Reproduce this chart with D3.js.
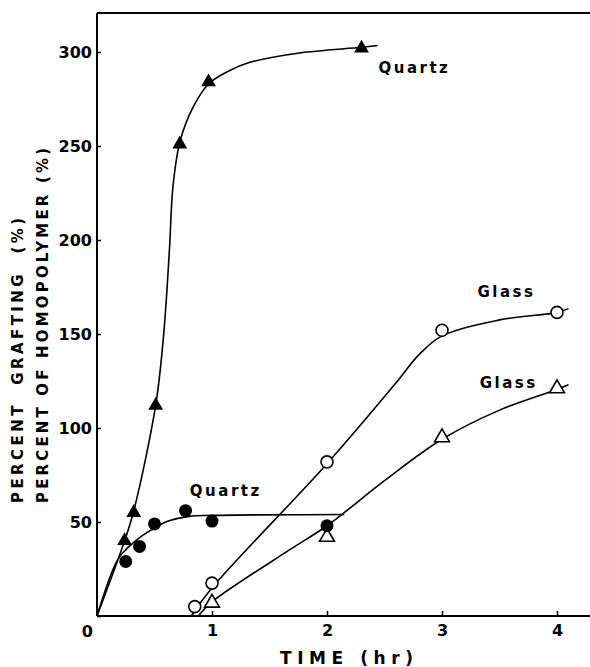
<!DOCTYPE html>
<html>
<head>
<meta charset="utf-8">
<script src="https://cdn.jsdelivr.net/npm/d3@7"></script>
<style>
  html, body { margin: 0; padding: 0; background: #fff; }
  svg { display: block; }
  text { font-family: "DejaVu Sans", sans-serif; fill: #000; }
  .pre { white-space: pre; }
</style>
</head>
<body>
<svg id="chart" width="590" height="667"></svg>
<script>
// ---- data ----
const yTicks = [0, 50, 100, 150, 200, 250, 300];
const xTicks = [1, 2, 3, 4];

// Quartz, filled triangles
const quartzTriPts = [[0.24, 40], [0.32, 55], [0.51, 112], [0.72, 251], [0.97, 284], [2.30, 302]];
const quartzTriCurve = [[0, 0], [0.24, 40], [0.32, 56], [0.51, 112], [0.58, 150], [0.63, 195], [0.66, 228], [0.72, 252], [0.83, 270], [0.97, 283], [1.15, 290], [1.33, 294.5], [1.76, 299.5], [2.30, 302.5], [2.44, 303.5]];

// Quartz, filled circles
const quartzCirPts = [[0.25, 29], [0.37, 37], [0.50, 49], [0.77, 56], [1.00, 50.5], [2.00, 48]];
const quartzCirCurve = [[0, 0], [0.18, 30], [0.28, 37], [0.40, 43], [0.52, 47.5], [0.62, 50.5], [0.80, 53], [1.00, 53.5], [2.15, 54]];

// Glass, open circles
const glassCirPts = [[0.85, 5], [1.00, 17.5], [2.00, 82], [3.00, 152], [4.00, 161.5]];
const glassCirCurve = [[0.82, 0], [1.00, 15], [2.00, 81], [2.60, 124], [2.80, 139], [3.00, 149], [3.50, 157.5], [4.00, 161.5], [4.10, 163.5]];

// Glass, open triangles
const glassTriPts = [[1.00, 7], [2.00, 42], [3.00, 95], [4.00, 121]];
const glassTriCurve = [[0.88, 0], [1.00, 7.5], [1.67, 35], [2.00, 48], [2.50, 72], [3.00, 94], [3.50, 109.5], [4.00, 120.5], [4.10, 123]];

const labels = [
  { text: "Quartz", x: 2.76, y: 289 },
  { text: "Quartz", x: 1.12, y: 63.8 },
  { text: "Glass",  x: 3.56, y: 169.6 },
  { text: "Glass",  x: 3.58, y: 121.3 }
];

const yTitle1 = "PERCENT  GRAFTING  (%)";
const yTitle2 = "PERCENT OF HOMOPOLYMER (%)";
const xTitle = "TIME (hr)";

// ---- layout ----
const svg = d3.select("#chart");
const x = d3.scaleLinear().domain([0, 4]).range([97, 557]);
const y = d3.scaleLinear().domain([0, 300]).range([616, 52]);
const plotTop = 13, plotRight = 590;

// frame
svg.append("line").attr("x1", x(0)).attr("x2", plotRight).attr("y1", plotTop).attr("y2", plotTop)
  .attr("stroke", "#000").attr("stroke-width", 2);

// axes
const yAxis = d3.axisLeft(y).tickValues(yTicks).tickSize(-4).tickPadding(5).tickFormat(d3.format("d"));
const gy = svg.append("g").attr("transform", `translate(${x(0)},0)`).call(yAxis);
gy.select(".domain").remove();
gy.selectAll(".tick line").attr("stroke", "#000").attr("stroke-width", 1.5);
gy.selectAll(".tick text").attr("font-size", 16).attr("font-weight", "bold")
  .attr("font-family", "DejaVu Sans, sans-serif");
gy.selectAll(".tick").filter(d => d === 0).select("text").attr("dy", "20px").attr("x", -4);

const xAxis = d3.axisBottom(x).tickValues(xTicks).tickSize(-5).tickPadding(9).tickFormat(d3.format("d"));
const gx = svg.append("g").attr("transform", `translate(0,${y(0)})`).call(xAxis);
gx.select(".domain").remove();
gx.selectAll(".tick line").attr("stroke", "#000").attr("stroke-width", 1.5);
gx.selectAll(".tick text").attr("font-size", 16).attr("font-weight", "bold")
  .attr("font-family", "DejaVu Sans, sans-serif");

// axis lines
svg.append("line").attr("x1", x(0)).attr("x2", x(0)).attr("y1", plotTop).attr("y2", y(0))
  .attr("stroke", "#000").attr("stroke-width", 2);
svg.append("line").attr("x1", x(0)).attr("x2", plotRight).attr("y1", y(0)).attr("y2", y(0))
  .attr("stroke", "#000").attr("stroke-width", 2);

// curves
const line = d3.line().x(d => x(d[0])).y(d => y(d[1])).curve(d3.curveCatmullRom.alpha(0.5));
[quartzTriCurve, quartzCirCurve, glassCirCurve, glassTriCurve].forEach(c => {
  svg.append("path").datum(c).attr("d", line)
    .attr("fill", "none").attr("stroke", "#000").attr("stroke-width", 1.6);
});

// markers
const tri = d3.symbol(d3.symbolTriangle, 95);
svg.append("g").selectAll("path").data(quartzTriPts).join("path")
  .attr("d", tri).attr("transform", d => `translate(${x(d[0])},${y(d[1])})`)
  .attr("fill", "#000");
svg.append("g").selectAll("path").data(glassTriPts).join("path")
  .attr("d", tri).attr("transform", d => `translate(${x(d[0])},${y(d[1])})`)
  .attr("fill", "#fff").attr("stroke", "#000").attr("stroke-width", 1.6);
svg.append("g").selectAll("circle").data(quartzCirPts).join("circle")
  .attr("cx", d => x(d[0])).attr("cy", d => y(d[1])).attr("r", 6.5).attr("fill", "#000");
svg.append("g").selectAll("circle").data(glassCirPts).join("circle")
  .attr("cx", d => x(d[0])).attr("cy", d => y(d[1])).attr("r", 6)
  .attr("fill", "#fff").attr("stroke", "#000").attr("stroke-width", 1.6);

// series labels
svg.append("g").selectAll("text").data(labels).join("text")
  .attr("x", d => x(d.x)).attr("y", d => y(d.y))
  .attr("text-anchor", "middle").attr("font-size", 15).attr("font-weight", "bold")
  .attr("letter-spacing", "2.5px")
  .text(d => d.text);

// axis titles
svg.append("text").attr("class", "pre").attr("transform", "translate(23,503) rotate(-90)")
  .attr("font-size", 15).attr("font-weight", "bold")
  .attr("textLength", 285).attr("lengthAdjust", "spacing").text(yTitle1);
svg.append("text").attr("class", "pre").attr("transform", "translate(48,503) rotate(-90)")
  .attr("font-size", 15).attr("font-weight", "bold")
  .attr("textLength", 355).attr("lengthAdjust", "spacing").text(yTitle2);
svg.append("text").attr("x", 280).attr("y", 664)
  .attr("font-size", 17).attr("font-weight", "bold")
  .attr("textLength", 133).attr("lengthAdjust", "spacing").text(xTitle);
</script>
</body>
</html>
